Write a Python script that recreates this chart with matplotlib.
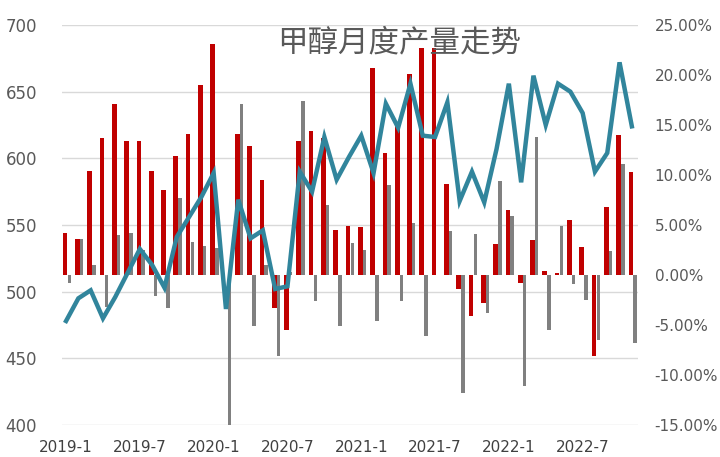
import numpy as np
import matplotlib
matplotlib.use("Agg")
import matplotlib.pyplot as plt
from matplotlib.ticker import FuncFormatter

plt.rcParams['font.family'] = ['DejaVu Sans', 'Noto Sans CJK SC']

title = "甲醇月度产量走势"

months = [f"{y}-{m}" for y in (2019, 2020, 2021, 2022) for m in range(1, 13)][:47]

tick_labels = ["2019-1", "2019-7", "2020-1", "2020-7", "2021-1", "2021-7", "2022-1", "2022-7"]

# monthly production (left axis)
production = [478, 495, 501, 480, 496, 514, 532, 520, 503, 541, 556, 571,
              589, 487, 569, 540, 546, 502, 504, 590, 575, 616, 584, 601,
              617, 589, 641, 623, 656, 617, 616, 642, 568, 590, 567, 607,
              656, 582, 662, 625, 656, 650, 634, 590, 604, 672, 624]

# year-on-year change, % (right axis, red)
yoy = [4.2, 3.6, 10.4, 13.7, 17.1, 13.4, 13.4, 10.4, 8.5, 11.9, 14.1, 19.0,
       23.1, np.nan, 14.1, 12.9, 9.5, -3.3, -5.5, 13.4, 14.4, 13.7, 4.5, 4.9,
       4.8, 20.7, 12.2, 15.0, 20.1, 22.7, 22.7, 9.1, -1.4, -4.1, -2.8, 3.1,
       6.5, -0.8, 3.5, 0.4, 0.2, 5.5, 2.8, -8.1, 6.8, 14.0, 10.3]

# month-on-month change, % (right axis, gray)
mom = [-0.8, 3.6, 1.0, -3.2, 4.0, 4.2, 2.5, -2.1, -3.3, 7.7, 3.3, 2.9,
       2.7, -15.0, 17.1, -5.1, 1.0, -8.1, 0.3, 17.4, -2.6, 7.0, -5.1, 3.2,
       2.5, -4.6, 9.0, -2.6, 5.2, -6.1, 0.0, 4.4, -11.8, 4.1, -3.8, 9.4,
       5.9, -11.1, 13.8, -5.5, 4.9, -0.9, -2.5, -6.5, 2.4, 11.1, -6.8]

W, H = 720, 457
fig = plt.figure(figsize=(W / 100, H / 100), dpi=100)
ax = fig.add_axes([62 / W, 32 / H, 576 / W, 400 / H])

x = np.arange(len(months))
tick_pos = [months.index(t) for t in tick_labels]

ax.set_xlim(-0.33, 46.5)
ax.set_ylim(400, 700)
ax.set_yticks(range(400, 701, 50))
ax.grid(axis='y', color='#d9d9d9', lw=1)
ax.set_axisbelow(True)
for s in ax.spines.values():
    s.set_visible(False)
ax.tick_params(axis='y', length=0, pad=18, labelsize=12, labelcolor='#595959')
ax.set_xticks(tick_pos)
ax.set_xticklabels(tick_labels)
ax.tick_params(axis='x', length=0, pad=10.5, labelsize=11, labelcolor='#404040')

ax2 = ax.twinx()
ax2.set_ylim(-15, 25)
ax2.set_yticks(range(-15, 26, 5))
ax2.yaxis.set_major_formatter(FuncFormatter(lambda v, p: f"{v:.2f}%"))
ax2.tick_params(axis='y', length=0, pad=12, labelsize=11, labelcolor='#595959')
for s in ax2.spines.values():
    s.set_visible(False)
ax2.bar(x - 0.08, yoy, width=0.38, color='#C00000')
ax2.bar(x + 0.27, mom, width=0.28, color='#808080')

ax3 = ax.twinx()
ax3.set_ylim(400, 700)
ax3.set_yticks([])
for s in ax3.spines.values():
    s.set_visible(False)
ax3.plot(x, production, color='#31859C', lw=3.2, solid_joinstyle='miter')

fig.text(0.555, 0.906, title, fontsize=22, color='#595959',
         family=['Noto Sans CJK SC'], ha='center', va='center')

fig.savefig("out.png", dpi=100)
